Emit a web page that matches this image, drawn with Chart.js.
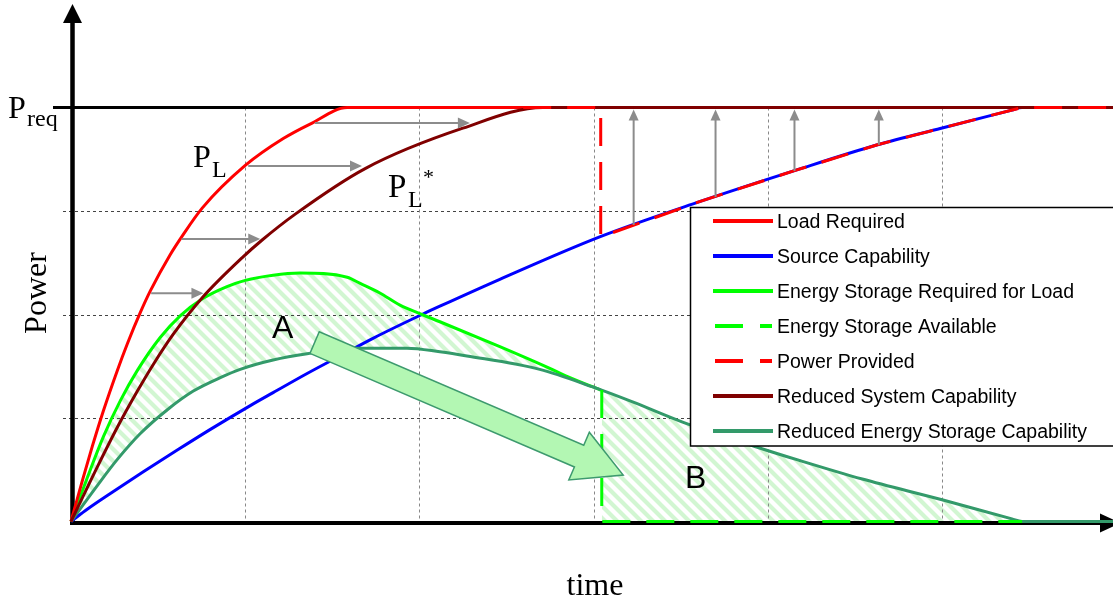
<!DOCTYPE html>
<html><head><meta charset="utf-8">
<script src="https://cdn.jsdelivr.net/npm/chart.js@4.4.0/dist/chart.umd.min.js"></script>
<style>html,body{margin:0;padding:0;background:#fff;overflow:hidden}canvas{display:block}</style>
</head><body>
<canvas id="c" width="1113" height="600"></canvas>
<script>
// ---- data (time units, power units; P_req = 4) ----
const loadX = [0, 0.066, 0.123, 0.186, 0.266, 0.324, 0.398, 0.456, 0.570, 0.639, 0.754, 1.0, 1.218, 1.372, 1.585, 5.98];
const loadY = [0, 0.40, 0.73, 1.07, 1.46, 1.72, 2.02, 2.23, 2.58, 2.76, 3.03, 3.44, 3.70, 3.84, 4.0, 4.0];

const sourceX = [0, 0.095, 0.226, 0.415, 0.61, 0.80, 1.029, 1.16, 1.355, 1.544, 1.733, 2.014, 2.117, 2.461, 3.034, 3.607, 4.152, 4.628, 4.994, 5.40, 5.458, 5.98];
const sourceY = [0, 0.12, 0.27, 0.48, 0.69, 0.89, 1.12, 1.245, 1.43, 1.60, 1.77, 2.0, 2.08, 2.34, 2.75, 3.09, 3.39, 3.64, 3.80, 3.975, 4.0, 4.0];

const esReqX = [0, 0.095, 0.186, 0.284, 0.381, 0.513, 0.628, 0.752, 0.895, 1.0, 1.16, 1.315, 1.585, 1.66, 1.77, 1.888, 2.014, 2.117, 2.461, 2.748, 2.85, 3.04];
const esReqY = [0, 0.43, 0.82, 1.17, 1.46, 1.78, 1.99, 2.15, 2.27, 2.33, 2.38, 2.40, 2.36, 2.30, 2.21, 2.09, 2.0, 1.93, 1.69, 1.48, 1.40, 1.27];

const esAvailX = [3.046, 3.046, 5.458];
const esAvailY = [1.27, 0, 0];

const powerX = [1.585, 3.04, 3.04, 3.607, 4.152, 4.628, 4.994, 5.458, 5.98];
const powerY = [4.0, 4.0, 2.75, 3.09, 3.39, 3.64, 3.80, 4.0, 4.0];

const redSysX = [0, 0.152, 0.266, 0.381, 0.473, 0.587, 0.752, 0.983, 1.097, 1.287, 1.688, 2.249, 2.708, 5.98];
const redSysY = [0, 0.53, 0.91, 1.26, 1.52, 1.81, 2.16, 2.55, 2.72, 2.97, 3.41, 3.80, 4.0, 4.0];

const redESX = [0, 0.152, 0.266, 0.398, 0.553, 0.702, 0.857, 0.971, 1.16, 1.355, 1.642, 1.928, 2.117, 2.272, 2.69, 2.994, 3.223, 3.51, 3.934, 4.18, 4.541, 4.999, 5.40, 5.458, 5.98];
const redESY = [0, 0.35, 0.60, 0.85, 1.08, 1.26, 1.39, 1.47, 1.56, 1.62, 1.675, 1.675, 1.64, 1.60, 1.47, 1.30, 1.155, 0.96, 0.72, 0.59, 0.41, 0.21, 0.025, 0, 0];

const labels = ['Load Required', 'Source Capability', 'Energy Storage Required for Load', 'Energy Storage Available', 'Power Provided', 'Reduced System Capability', 'Reduced Energy Storage Capability'];

const xGrid = [1, 2, 3, 4, 5];
const yGrid = [1, 2, 3];
const pReq = 4;

// shift arrows (P_L -> P_L*) and lift arrows (source -> P_req)
const hArrowY = [2.205, 2.73, 3.435, 3.85];
const hArrowX0 = [0.46, 0.635, 1.017, 1.40];
const hArrowX1 = [0.76, 1.086, 1.670, 2.289];
const vArrowX = [3.229, 3.699, 4.152, 4.636];
const vArrowY0 = [2.865, 3.135, 3.386, 3.64];
const vArrowY1 = 3.98;

// A -> B arrow (tail, tip) and text anchors
const bigArrow = {x0: 1.398, y0: 1.729, x1: 3.169, y1: 0.449};
const textA = {x: 1.153, y: 1.773};
const textB = {x: 3.524, y: 0.324};
const textPL = {x: 0.700, y: 3.425};
const textPLs = {x: 1.819, y: 3.135};

const pts = (xs, ys) => xs.map((x, i) => ({x, y: ys[i]}));

// hatch pattern
const pc = document.createElement('canvas'); pc.width = 12; pc.height = 12;
const pg = pc.getContext('2d');
pg.strokeStyle = '#d2f6d2'; pg.lineWidth = 4.2;
pg.beginPath();
pg.moveTo(-6, -6); pg.lineTo(18, 18);
pg.moveTo(-6, 6); pg.lineTo(6, 18);
pg.moveTo(6, -6); pg.lineTo(18, 6);
pg.stroke();
const hatch = document.getElementById('c').getContext('2d').createPattern(pc, 'repeat');

const TEAL = '#339a6a';

const datasets = [
  {label: labels[0], data: pts(loadX, loadY), borderColor: '#ff0000', order: 4, cubicInterpolationMode: 'monotone'},
  {label: labels[1], data: pts(sourceX, sourceY), borderColor: '#0000ff', order: 7, cubicInterpolationMode: 'monotone'},
  {label: labels[2], data: pts(esReqX, esReqY), borderColor: '#00ff00', order: 6, cubicInterpolationMode: 'monotone',
   fill: {target: 6, above: hatch, below: 'rgba(0,0,0,0)'}},
  {label: labels[3], data: pts(esAvailX, esAvailY), borderColor: '#00ff00', borderDash: [28, 16], order: 1,
   fill: {target: 6, above: hatch, below: hatch}},
  {label: labels[4], data: pts(powerX, powerY), borderColor: '#ff0000', borderDash: [28, 16], order: 0},
  {label: labels[5], data: pts(redSysX, redSysY), borderColor: '#800000', order: 3, cubicInterpolationMode: 'monotone'},
  {label: labels[6], data: pts(redESX, redESY), borderColor: TEAL, order: 5, cubicInterpolationMode: 'monotone'}
];
datasets.forEach(d => { d.borderWidth = 3; d.pointRadius = 0; d.clip = 8; if (d.fill === undefined) d.fill = false; d.borderCapStyle = 'butt'; });

function arrowHead(ctx, x1, y1, ux, uy, len, half) {
  ctx.beginPath();
  ctx.moveTo(x1, y1);
  ctx.lineTo(x1 - ux * len - uy * half, y1 - uy * len + ux * half);
  ctx.lineTo(x1 - ux * len + uy * half, y1 - uy * len - ux * half);
  ctx.closePath(); ctx.fill();
}

const deco = {
  id: 'deco',
  beforeDatasetsDraw(chart) {
    const ctx = chart.ctx, xs = chart.scales.x, ys = chart.scales.y;
    const X = v => xs.getPixelForValue(v), Y = v => ys.getPixelForValue(v);
    ctx.save();
    ctx.lineWidth = 1;
    ctx.strokeStyle = '#444'; ctx.setLineDash([3, 3]);
    yGrid.forEach(v => { const y = Math.round(Y(v)) + 0.5; ctx.beginPath(); ctx.moveTo(X(0) - 8, y); ctx.lineTo(chart.width, y); ctx.stroke(); });
    ctx.strokeStyle = '#888';
    xGrid.forEach(v => { const x = Math.round(X(v)) + 0.5; ctx.beginPath(); ctx.moveTo(x, Y(pReq)); ctx.lineTo(x, Y(0) + 5); ctx.stroke(); });
    ctx.setLineDash([]);
    // P_req line
    ctx.strokeStyle = '#000'; ctx.lineWidth = 3;
    ctx.beginPath(); ctx.moveTo(X(0) - 18, Y(pReq)); ctx.lineTo(chart.width, Y(pReq)); ctx.stroke();
    // y axis
    const ax = X(0) + 1.5;
    ctx.lineWidth = 4.5;
    ctx.beginPath(); ctx.moveTo(ax, Y(0) + 3); ctx.lineTo(ax, 20); ctx.stroke();
    ctx.fillStyle = '#000';
    ctx.beginPath(); ctx.moveTo(ax, 4); ctx.lineTo(ax - 9.5, 23); ctx.lineTo(ax + 9.5, 23); ctx.closePath(); ctx.fill();
    // x axis
    const ay = Y(0) + 1.5;
    ctx.lineWidth = 4;
    ctx.beginPath(); ctx.moveTo(X(0) - 1, ay); ctx.lineTo(1104, ay); ctx.stroke();
    ctx.beginPath(); ctx.moveTo(1121, ay); ctx.lineTo(1100, ay - 9.5); ctx.lineTo(1100, ay + 9.5); ctx.closePath(); ctx.fill();
    ctx.restore();
  },
  afterDatasetsDraw(chart) {
    const ctx = chart.ctx, xs = chart.scales.x, ys = chart.scales.y;
    const X = v => xs.getPixelForValue(v), Y = v => ys.getPixelForValue(v);
    ctx.save();
    // gray arrows
    ctx.strokeStyle = '#8c8c8c'; ctx.fillStyle = '#8c8c8c'; ctx.lineWidth = 2;
    hArrowY.forEach((yv, i) => {
      const y = Y(yv), x0 = X(hArrowX0[i]), x1 = X(hArrowX1[i]);
      ctx.beginPath(); ctx.moveTo(x0, y); ctx.lineTo(x1 - 10, y); ctx.stroke();
      arrowHead(ctx, x1, y, 1, 0, 12, 5.5);
    });
    vArrowX.forEach((xv, i) => {
      const x = X(xv), y0 = Y(vArrowY0[i]), y1 = Y(vArrowY1);
      ctx.beginPath(); ctx.moveTo(x, y0); ctx.lineTo(x, y1 + 9); ctx.stroke();
      arrowHead(ctx, x, y1, 0, -1, 11, 5);
    });
    // big A->B arrow
    const tx = X(bigArrow.x0), ty = Y(bigArrow.y0), hx = X(bigArrow.x1), hy = Y(bigArrow.y1);
    const L = Math.hypot(hx - tx, hy - ty), ux = (hx - tx) / L, uy = (hy - ty) / L, px = -uy, py = ux;
    const sw = 11.8, hw = 26, hl = 48;
    const bx = hx - ux * hl, by = hy - uy * hl;
    ctx.beginPath();
    ctx.moveTo(tx + px * sw, ty + py * sw);
    ctx.lineTo(bx + px * sw, by + py * sw);
    ctx.lineTo(bx + px * hw, by + py * hw);
    ctx.lineTo(hx, hy);
    ctx.lineTo(bx - px * hw, by - py * hw);
    ctx.lineTo(bx - px * sw, by - py * sw);
    ctx.lineTo(tx - px * sw, ty - py * sw);
    ctx.closePath();
    ctx.fillStyle = '#b3f7b3'; ctx.fill();
    ctx.strokeStyle = '#3d9a6e'; ctx.lineWidth = 1.5; ctx.stroke();

    // legend box
    const lx = 690.5, ly = 207.5;
    ctx.fillStyle = '#fff'; ctx.fillRect(lx, ly, 440, 238.5);
    ctx.strokeStyle = '#000'; ctx.lineWidth = 1.5; ctx.strokeRect(lx, ly, 440, 238.5);
    chart.data.datasets.forEach((ds, i) => {
      const cy = 221 + 35 * i;
      ctx.strokeStyle = ds.borderColor; ctx.lineWidth = 4;
      ctx.setLineDash(ds.borderDash ? [28, 17] : []);
      ctx.beginPath();
      if (ds.borderDash) { ctx.moveTo(715, cy); ctx.lineTo(772, cy); } else { ctx.moveTo(713, cy); ctx.lineTo(773, cy); }
      ctx.stroke();
      ctx.setLineDash([]);
      ctx.fillStyle = '#000'; ctx.font = '19.5px "Liberation Sans", Arial, sans-serif';
      ctx.textAlign = 'left'; ctx.textBaseline = 'alphabetic';
      ctx.fillText(ds.label, 777, cy + 7);
    });

    // texts
    ctx.fillStyle = '#000'; ctx.textAlign = 'left'; ctx.textBaseline = 'alphabetic';
    const serif = '"Liberation Serif", "Times New Roman", serif';
    ctx.font = '32px ' + serif;
    ctx.fillText('P', 8, Y(pReq) + 10.5);
    ctx.font = '24px ' + serif;
    ctx.fillText('req', 27, Y(pReq) + 18.5);
    // P_L
    let x = X(textPL.x), y = Y(textPL.y);
    ctx.font = '32px ' + serif; ctx.fillText('P', x, y);
    ctx.font = '24px ' + serif; ctx.fillText('L', x + 19, y + 10);
    // P_L*
    x = X(textPLs.x); y = Y(textPLs.y);
    ctx.font = '33px ' + serif; ctx.fillText('P', x, y);
    ctx.font = '24px ' + serif; ctx.fillText('L', x + 20, y + 10);
    ctx.font = '22px ' + serif; ctx.fillText('*', x + 35, y - 13);
    // A, B
    ctx.font = '32px "Liberation Sans", Arial, sans-serif';
    ctx.fillText('A', X(textA.x), Y(textA.y));
    ctx.fillText('B', X(textB.x), Y(textB.y));
    // axis titles
    ctx.font = '32px ' + serif;
    ctx.textAlign = 'center';
    ctx.fillText('time', 595, 595);
    ctx.save(); ctx.translate(46, 293); ctx.rotate(-Math.PI / 2); ctx.fillText('Power', 0, 0); ctx.restore();
    ctx.restore();
  }
};

new Chart(document.getElementById('c'), {
  type: 'line',
  data: {datasets},
  options: {
    responsive: false, animation: false, devicePixelRatio: 1,
    layout: {padding: {left: 71, top: 4, right: 0, bottom: 78.5}},
    scales: {
      x: {type: 'linear', min: 0, max: 5.98, display: false},
      y: {type: 'linear', min: 0, max: 5, display: false}
    },
    plugins: {legend: {display: false}, tooltip: {enabled: false}, filler: {drawTime: 'beforeDatasetsDraw'}},
    elements: {line: {tension: 0}}
  },
  plugins: [deco]
});
</script>
</body></html>
